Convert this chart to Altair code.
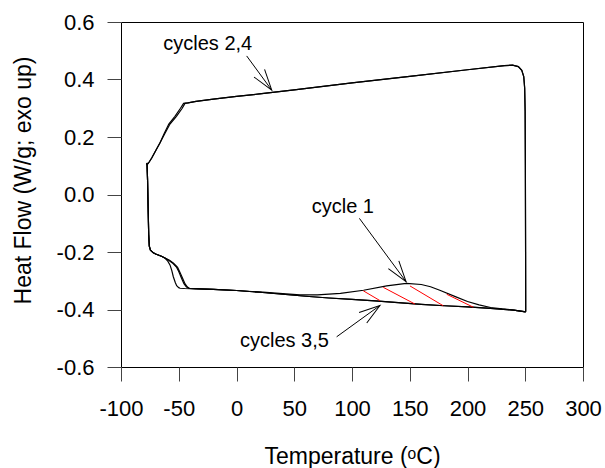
import math
import altair as alt
import pandas as pd

FONT = "Liberation Sans"
PLOT_W, PLOT_H = 462, 345
X_DOM = [-100, 300]
Y_DOM = [-0.6, 0.6]

# ---- heating scans (cycles 1, 3, 5) ----
heat_start_T = [-77.5, -77.0, -76.5, -76.0, -75.5, -74.5, -72.0, -70.0, -65.0, -62.0]
heat_start_HF = [0.110, 0.050, -0.050, -0.140, -0.180, -0.194, -0.203, -0.207, -0.215, -0.221]

heat1_T = [-59.5, -57.6, -56.0, -54.7, -53.0, -51.8, -50.0, -48.9, -45.0, -35.0,
           -20.0, 0.0, 20.0, 40.0, 55.0, 70.0, 90.0, 110.0, 130.0, 147.0,
           160.0, 168.0, 176.0, 190.0, 200.0, 210.0, 220.0, 230.0, 240.0, 250.4]
heat1_HF = [-0.232, -0.245, -0.265, -0.286, -0.306, -0.317, -0.324, -0.326, -0.327, -0.328,
            -0.330, -0.334, -0.339, -0.345, -0.349, -0.349, -0.344, -0.333, -0.318, -0.309,
            -0.313, -0.321, -0.333, -0.356, -0.372, -0.384, -0.393, -0.398, -0.402, -0.408]

heat3_step_T = [-59.0, -55.5, -52.0, -50.0, -47.5, -45.5, -43.5, -41.5, -35.0]
heat3_step_HF = [-0.228, -0.238, -0.252, -0.268, -0.292, -0.310, -0.321, -0.326, -0.327]
heat5_step_T = [-58.0, -54.5, -51.0, -49.0, -46.5, -44.5, -42.5, -40.5, -35.0]
heat5_step_HF = [-0.229, -0.239, -0.253, -0.270, -0.293, -0.311, -0.322, -0.327, -0.328]

base_T = [-20.0, 0.0, 20.0, 40.0, 60.0, 80.0, 100.0, 120.0, 140.0, 160.0, 180.0, 200.0, 220.0, 240.0, 250.4]
base_HF = [-0.330, -0.334, -0.340, -0.347, -0.354, -0.360, -0.365, -0.370, -0.376, -0.382,
           -0.387, -0.391, -0.396, -0.402, -0.408]

# ---- cooling scans (cycles 2, 4) ----
cool_hot_T = [250.4, 250.3, 250.1, 249.9, 249.5, 248.7, 247.0, 244.0, 239.0, 232.0,
              200.0, 150.0, 100.0, 50.0, 20.0, 0.0, -20.0, -35.0, -42.0]
cool_hot_HF = [-0.408, -0.200, 0.100, 0.290, 0.370, 0.410, 0.432, 0.445, 0.450, 0.448,
               0.434, 0.411, 0.388, 0.364, 0.350, 0.341, 0.332, 0.324, 0.319]
cool2_step_T = [-44.6, -47.0, -52.0, -57.6, -62.0]
cool2_step_HF = [0.317, 0.300, 0.272, 0.245, 0.212]
cool4_step_T = [-45.8, -48.5, -53.3, -58.6, -62.6]
cool4_step_HF = [0.317, 0.300, 0.272, 0.245, 0.212]
cool_end_T = [-66.2, -70.0, -73.4, -76.4, -77.8]
cool_end_HF = [0.180, 0.152, 0.127, 0.108, 0.103]

# ---- red hatching under the cycle 1 exotherm ----
hatch_T1 = [109.8, 127.1, 150.2, 182.0]
hatch_HF1 = [-0.335, -0.323, -0.318, -0.347]
hatch_T2 = [124.2, 154.5, 179.0, 205.0]
hatch_HF2 = [-0.369, -0.381, -0.387, -0.392]

# ---- annotations ----
note_text = ["cycles 2,4", "cycle 1", "cycles 3,5"]
note_T = [-63.4, 65.1, 3.0]
note_HF = [0.503, -0.065, -0.529]
arrow_tail_T = [8.8, 106.4, 86.7]
arrow_tail_HF = [0.482, -0.083, -0.495]
arrow_tip_T = [30.5, 146.8, 124.2]
arrow_tip_HF = [0.363, -0.303, -0.386]

cycles = {
    "cycle 1": (heat_start_T + heat1_T, heat_start_HF + heat1_HF),
    "cycle 2": (cool_hot_T + cool2_step_T + cool_end_T, cool_hot_HF + cool2_step_HF + cool_end_HF),
    "cycle 3": (heat_start_T + heat3_step_T + base_T, heat_start_HF + heat3_step_HF + base_HF),
    "cycle 4": (cool_hot_T + cool4_step_T + cool_end_T, cool_hot_HF + cool4_step_HF + cool_end_HF),
    "cycle 5": (heat_start_T + heat5_step_T + base_T, heat_start_HF + heat5_step_HF + base_HF),
}
rows = []
for name, (ts, hs) in cycles.items():
    for i, (t, h) in enumerate(zip(ts, hs)):
        rows.append({"cycle": name, "T": t, "HF": h, "i": i})
curves = pd.DataFrame(rows)

hatch = pd.DataFrame({"T": hatch_T1, "HF": hatch_HF1, "T2": hatch_T2, "HF2": hatch_HF2})

# arrowhead orientation in screen space
px_x = PLOT_W / (X_DOM[1] - X_DOM[0])
px_y = PLOT_H / (Y_DOM[1] - Y_DOM[0])
angles = []
for t0, h0, t1, h1 in zip(arrow_tail_T, arrow_tail_HF, arrow_tip_T, arrow_tip_HF):
    dx = (t1 - t0) * px_x
    dy = -(h1 - h0) * px_y
    angles.append(math.degrees(math.atan2(dx, -dy)) % 360)
arrows = pd.DataFrame({"T": arrow_tail_T, "HF": arrow_tail_HF,
                       "T2": arrow_tip_T, "HF2": arrow_tip_HF, "angle": angles})
notes = pd.DataFrame({"label": note_text, "T": note_T, "HF": note_HF})

xs = alt.Scale(domain=X_DOM, nice=False, zero=False)
ys = alt.Scale(domain=Y_DOM, nice=False, zero=False)

x_axis = alt.Axis(
    title="Temperature (ᵒC)", values=list(range(-100, 301, 50)),
    labelExpr="(datum.value < 0 ? '-' : '') + format(abs(datum.value), 'd')",
    labelOverlap=False, labelFlush=False,
    tickSize=14, labelPadding=17, titleY=96, titleBaseline="alphabetic",
)
y_axis = alt.Axis(
    title="Heat Flow (W/g; exo up)", values=[-0.6, -0.4, -0.2, 0.0, 0.2, 0.4, 0.6],
    labelExpr="(datum.value < 0 ? '-' : '') + format(abs(datum.value), '.1f')",
    labelOverlap=False, labelFlush=False,
    tickSize=14, labelPadding=13, titleX=-98, titleY=158,
    titleBaseline="middle", titleAlign="center", titleAngle=270,
)

lines = alt.Chart(curves).mark_line(color="black", strokeWidth=1.2, interpolate="linear").encode(
    x=alt.X("T:Q", scale=xs, axis=x_axis),
    y=alt.Y("HF:Q", scale=ys, axis=y_axis),
    detail="cycle:N",
    order="i:Q",
)

hatch_rules = alt.Chart(hatch).mark_rule(color="red", strokeWidth=1).encode(
    x="T:Q", y="HF:Q", x2="T2:Q", y2="HF2:Q"
)

shafts = alt.Chart(arrows).mark_rule(color="black", strokeWidth=1).encode(
    x="T:Q", y="HF:Q", x2="T2:Q", y2="HF2:Q"
)

heads = alt.Chart(arrows).mark_point(
    shape="M -0.31 1 L 0 0 L 0.31 1", size=1764, filled=False,
    color="black", strokeWidth=1, opacity=1,
).encode(
    x="T2:Q", y="HF2:Q", angle=alt.Angle("angle:Q", scale=None)
)

labels = alt.Chart(notes).mark_text(
    align="left", baseline="alphabetic", font=FONT, fontSize=20, color="black"
).encode(x="T:Q", y="HF:Q", text="label:N")

chart = alt.layer(lines, hatch_rules, shafts, heads, labels).properties(
    width=PLOT_W, height=PLOT_H,
    autosize=alt.AutoSizeParams(type="none"),
    padding={"left": 121, "top": 22, "right": 22, "bottom": 101},
    background="white",
).configure_view(
    stroke="black", strokeWidth=1
).configure_axis(
    grid=False, domain=False,
    tickColor="#444", tickWidth=1,
    labelFont=FONT, labelFontSize=22, labelColor="black",
    titleFont=FONT, titleFontSize=23, titleFontWeight="normal", titleColor="black",
)

chart.save("out.html", embed_options={"renderer": "svg", "actions": False})
